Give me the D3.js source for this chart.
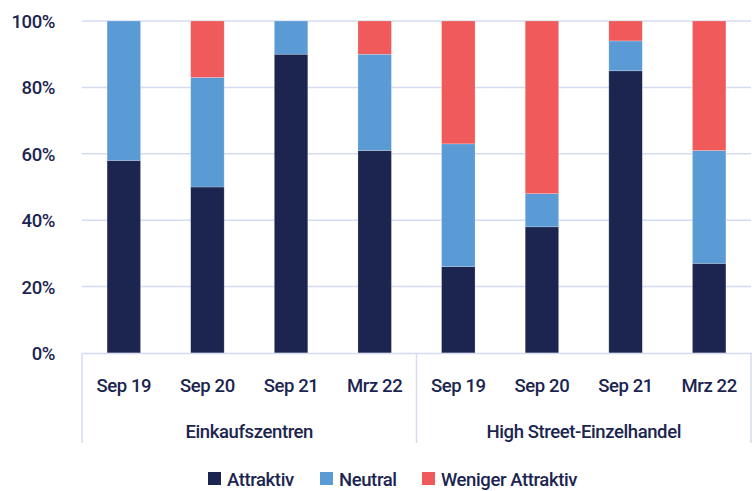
<!DOCTYPE html>
<html>
<head>
<meta charset="utf-8">
<script src="https://cdn.jsdelivr.net/npm/d3@7"></script>
<style>
  body { margin: 0; background: #fff; }
  text { font-family: Roboto, "Noto Sans", sans-serif; font-weight: 500; fill: #1b2550; letter-spacing: -0.4px; }
</style>
</head>
<body>
<div id="chart"></div>
<script>
// data
let groups = ["Einkaufszentren", "High Street-Einzelhandel"];
let periods = ["Sep 19", "Sep 20", "Sep 21", "Mrz 22"];
let seriesNames = ["Attraktiv", "Neutral", "Weniger Attraktiv"];
let attraktiv = [58, 50, 90, 61, 26, 38, 85, 27];
let neutral = [42, 33, 10, 29, 37, 10, 9, 34];
let weniger = [0, 17, 0, 10, 37, 52, 6, 39];
let yTicks = [0, 20, 40, 60, 80, 100];
let colors = ["#1b2550", "#5b9bd5", "#f05a5a"];

let width = 755, height = 491;
let margin = {top: 21, right: 4, bottom: 138, left: 82};
let plotW = width - margin.left - margin.right;
let plotH = height - margin.top - margin.bottom;
let fontSize = 18.5;

// one row per bar
let rows = [];
groups.forEach(function(g, gi) {
  periods.forEach(function(p, pi) {
    let i = gi * periods.length + pi;
    rows.push({key: g + "|" + p, group: g, period: p,
      "Attraktiv": attraktiv[i], "Neutral": neutral[i], "Weniger Attraktiv": weniger[i]});
  });
});

let svg = d3.select("#chart").append("svg")
  .attr("width", width)
  .attr("height", height);

let g = svg.append("g")
  .attr("transform", "translate(" + margin.left + "," + margin.top + ")");

let x = d3.scaleBand()
  .domain(rows.map(function(d) { return d.key; }))
  .range([0, plotW])
  .paddingInner(0.6)
  .paddingOuter(0.3);

let y = d3.scaleLinear().domain([0, 100]).range([plotH, 0]);

let color = d3.scaleOrdinal().domain(seriesNames).range(colors);

// gridlines
g.append("g")
  .selectAll("line")
  .data(yTicks.slice(1))
  .enter().append("line")
    .attr("x1", 0)
    .attr("x2", plotW)
    .attr("y1", function(d) { return y(d); })
    .attr("y2", function(d) { return y(d); })
    .attr("stroke", "#d5dcf2")
    .attr("stroke-width", 1.5);

// y axis labels
let yAxis = g.append("g")
  .attr("transform", "translate(-24,0)")
  .call(d3.axisLeft(y).tickValues(yTicks).tickSize(0).tickFormat(function(d) { return d + "%"; }));
yAxis.select(".domain").remove();
yAxis.selectAll("text")
  .attr("font-size", fontSize)
  .attr("dy", "0.35em")
  .style("font-family", null);

// stacked bars
let stack = d3.stack().keys(seriesNames);
let layers = stack(rows);

g.append("g")
  .selectAll("g")
  .data(layers)
  .enter().append("g")
    .attr("fill", function(d) { return color(d.key); })
  .selectAll("rect")
  .data(function(d) { return d; })
  .enter().append("rect")
    .attr("x", function(d) { return x(d.data.key); })
    .attr("width", x.bandwidth())
    .attr("y", function(d) { return y(d[1]); })
    .attr("height", function(d) { return y(d[0]) - y(d[1]); })
    .attr("stroke", "rgba(255,255,255,0.35)")
    .attr("stroke-width", 0.6);

// x axis: base line and period labels
let xAxis = g.append("g")
  .attr("transform", "translate(0," + plotH + ")")
  .call(d3.axisBottom(x).tickSize(0).tickFormat(function(k) { return k.split("|")[1]; }));
xAxis.select(".domain")
  .attr("stroke", "#d5dcf2")
  .attr("stroke-width", 1.5);
xAxis.selectAll("text")
  .attr("font-size", fontSize)
  .attr("y", 26)
  .style("font-family", null);

// group separators and group labels
let groupW = plotW / groups.length;
let sepX = d3.range(groups.length + 1).map(function(i) { return i * groupW; });
g.append("g")
  .selectAll("line")
  .data(sepX)
  .enter().append("line")
    .attr("x1", function(d) { return d; })
    .attr("x2", function(d) { return d; })
    .attr("y1", plotH)
    .attr("y2", plotH + 90)
    .attr("stroke", "#d5dcf2")
    .attr("stroke-width", 1.5);

g.append("g")
  .selectAll("text")
  .data(groups)
  .enter().append("text")
    .attr("x", function(d, i) { return (i + 0.5) * groupW; })
    .attr("y", plotH + 85)
    .attr("text-anchor", "middle")
    .attr("font-size", fontSize)
    .text(function(d) { return d; });

// legend
let legendX = [208, 320, 422];
let legend = svg.append("g")
  .selectAll("g")
  .data(seriesNames)
  .enter().append("g")
    .attr("transform", function(d, i) { return "translate(" + legendX[i] + ",472)"; });
legend.append("rect")
  .attr("width", 13)
  .attr("height", 13)
  .attr("fill", function(d) { return color(d); });
legend.append("text")
  .attr("x", 19)
  .attr("y", 14)
  .attr("font-size", fontSize)
  .text(function(d) { return d; });
</script>
</body>
</html>
